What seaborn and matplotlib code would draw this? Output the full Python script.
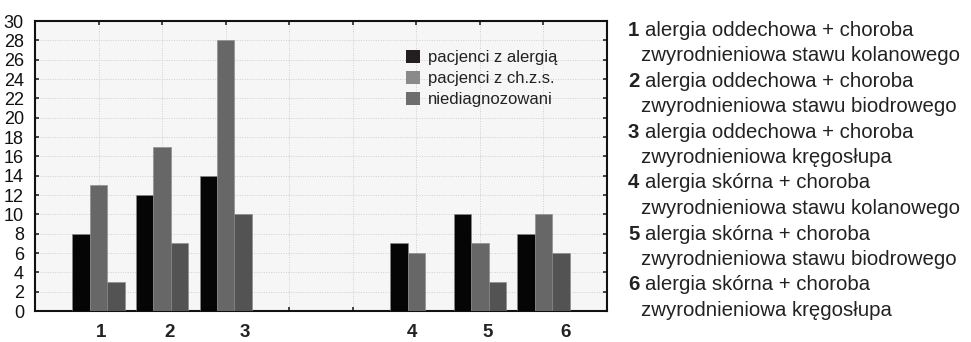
import matplotlib
matplotlib.use("Agg")
import matplotlib.pyplot as plt
import seaborn as sns
import pandas as pd

# Combinations of allergy and degenerative joint disease
groups = ["1", "2", "3", "4", "5", "6"]
series = ["pacjenci z alergią", "pacjenci z ch.z.s.", "niediagnozowani"]
allergy = [8, 12, 14, 7, 10, 8]
joint = [13, 17, 28, 6, 7, 10]
undiagnosed = [3, 7, 10, 0, 3, 6]

descriptions = [
    ("1", "alergia oddechowa + choroba", "zwyrodnieniowa stawu kolanowego"),
    ("2", "alergia oddechowa + choroba", "zwyrodnieniowa stawu biodrowego"),
    ("3", "alergia oddechowa + choroba", "zwyrodnieniowa kręgosłupa"),
    ("4", "alergia skórna + choroba", "zwyrodnieniowa stawu kolanowego"),
    ("5", "alergia skórna + choroba", "zwyrodnieniowa stawu biodrowego"),
    ("6", "alergia skórna + choroba", "zwyrodnieniowa kręgosłupa"),
]

rows = []
for name, vals in zip(series, [allergy, joint, undiagnosed]):
    for g, v in zip(groups, vals):
        rows.append({"grupa": g, "seria": name, "liczba": v})
df = pd.DataFrame(rows)

# two empty slots separate respiratory and skin allergy groups
order = ["1", "2", "3", " ", "  ", "4", "5", "6"]
bar_colors = ["#050505", "#676767", "#535353"]
legend_colors = ["#231f20", "#8a8a8a", "#6d6d6d"]

sns.set_style("ticks")
plt.rcParams["font.family"] = ["Liberation Sans", "DejaVu Sans"]

fig = plt.figure(figsize=(9.71, 3.42), dpi=100)
ax = fig.add_axes([35 / 971, 1 - 311 / 342, (607 - 35) / 971, (311 - 21) / 342])
ax.set_facecolor("#f6f6f6")

sns.barplot(data=df, x="grupa", y="liczba", hue="seria", order=order,
            hue_order=series, palette=bar_colors, width=0.82, dodge=True,
            saturation=1, edgecolor="#8a8a8a", linewidth=0.4, ax=ax,
            legend=False, zorder=3)

ax.set_xlim(-1, 8)
ax.set_ylim(0, 30)
ax.set_yticks(range(0, 31, 2))
ax.set_yticklabels([str(v) for v in range(0, 31, 2)], fontsize=13)
ax.set_xticks(range(0, 8))
ax.set_xticklabels([])
ax.set_xlabel("")
ax.set_ylabel("")
ax.tick_params(axis="both", direction="in", length=3, width=1.2,
               top=True, right=True, bottom=True, left=True, pad=6)
ax.tick_params(axis="y", pad=8, labelcolor="#111111")

ax.grid(True, color="#cfcfcf", linestyle=(0, (1, 1.5)), linewidth=0.7, zorder=0)
for s in ax.spines.values():
    s.set_visible(True)
    s.set_linewidth(1.5)
    s.set_color("#111111")

# group numbers below the axis
label_pos = [0.04, 1.12, 2.3, 4.93, 6.13, 7.35]
for g, xp in zip(groups, label_pos):
    ax.text(xp, -1.35, g, ha="center", va="top", fontsize=13.5,
            fontweight="bold", color="#222222")

handles = [plt.Rectangle((0, 0), 1, 1, facecolor=c, edgecolor="none")
           for c in legend_colors]
leg = ax.legend(handles, series, loc="upper left",
                bbox_to_anchor=(0.649, 0.9), frameon=False, fontsize=12,
                handlelength=0.85, handleheight=0.85, handletextpad=0.45,
                labelspacing=0.32, borderaxespad=0, borderpad=0)
for t in leg.get_texts():
    t.set_color("#222222")

# legend of group descriptions on the right
base0 = 35.5
step = 25.5
for i, (num, l1, l2) in enumerate(descriptions):
    yb = base0 + 2 * i * step
    fig.text(628 / 971, 1 - yb / 342, num, fontsize=14.7, fontweight="bold",
             color="#222222", va="baseline", ha="left")
    fig.text(645 / 971, 1 - yb / 342, l1, fontsize=14.7, color="#222222",
             va="baseline", ha="left")
    fig.text(641 / 971, 1 - (yb + step) / 342, l2, fontsize=14.7,
             color="#222222", va="baseline", ha="left")

fig.savefig("out.png", dpi=100)
